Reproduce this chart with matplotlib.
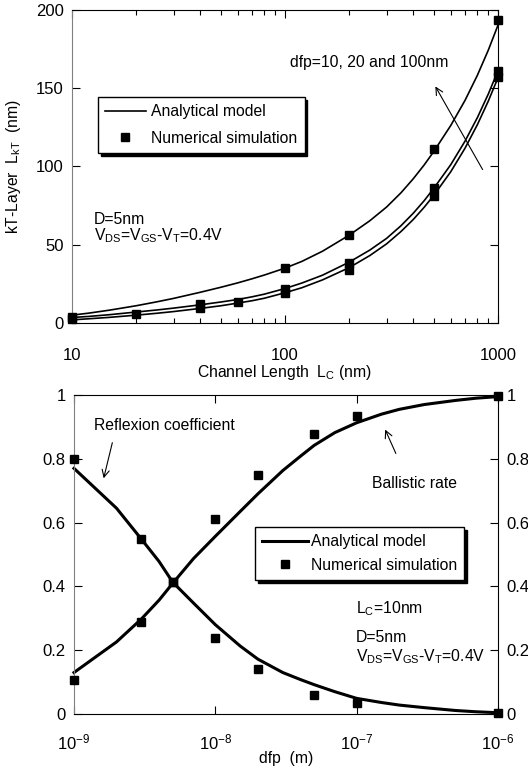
import matplotlib
matplotlib.use('Agg')
import matplotlib.pyplot as plt
from matplotlib.ticker import FixedLocator, NullLocator, FuncFormatter, LogLocator, LogFormatterSciNotation

plt.rcParams['font.family'] = ['Liberation Sans', 'DejaVu Sans']
plt.rcParams['mathtext.fontset'] = 'custom'
plt.rcParams['mathtext.rm'] = 'Liberation Sans'
plt.rcParams['mathtext.it'] = 'Liberation Sans:italic'
plt.rcParams['mathtext.bf'] = 'Liberation Sans:bold'

# ---------------- top panel data: kT-layer vs channel length ----------------
lc_model = [10, 12, 15, 20, 25, 30, 40, 50, 60, 70, 80, 100, 120, 150, 200, 250, 300,
            350, 400, 450, 500, 600, 700, 800, 900, 1000]
lkt_model_dfp10 = [2.0, 2.7, 3.6, 5.0, 6.2, 7.3, 9.3, 11.0, 12.7, 14.2, 15.8, 19.3, 22.5,
                   27.5, 35.3, 43.0, 50.5, 58.3, 66.0, 73.8, 81.5, 96.5, 111.5, 126.5,
                   141.5, 156.5]
lkt_model_dfp20 = [3.5, 4.2, 5.3, 7.0, 8.3, 9.5, 11.6, 13.4, 15.0, 16.7, 18.4, 22.0, 25.5,
                   30.5, 38.8, 46.5, 54.0, 62.0, 70.0, 78.0, 86.0, 101.0, 116.0, 131.0,
                   146.0, 161.0]
lkt_model_dfp100 = [5.0, 6.3, 8.2, 11.0, 13.5, 15.7, 19.6, 22.8, 25.6, 28.2, 30.6, 35.0,
                    39.3, 45.8, 56.0, 65.2, 74.0, 83.0, 92.0, 100.8, 109.5, 126.0, 142.0,
                    158.0, 174.0, 190.0]

lc_sim_dfp10 = [10, 20, 40, 60, 100, 200, 500, 1000]
lkt_sim_dfp10 = [2.8, 6.0, 9.5, 13.4, 19.0, 34.0, 81.0, 157.0]
lc_sim_dfp20 = [40, 100, 200, 500, 1000]
lkt_sim_dfp20 = [12.0, 22.0, 38.0, 86.0, 161.0]
lc_sim_dfp100 = [10, 100, 200, 500, 1000]
lkt_sim_dfp100 = [4.0, 35.0, 56.0, 111.0, 193.0]

top_xticks = [10, 100, 1000]
top_yticks = [0, 50, 100, 150, 200]

# ---------------- bottom panel data: ballistic rate / reflexion ----------------
dfp_model = [1e-9, 2e-9, 3e-9, 4e-9, 5e-9, 7e-9, 1e-8, 1.5e-8, 2e-8, 3e-8, 4e-8, 5e-8,
             7e-8, 1e-7, 1.5e-7, 2e-7, 3e-7, 5e-7, 7e-7, 1e-6]
ballistic_model = [0.13, 0.226, 0.298, 0.357, 0.41, 0.487, 0.557, 0.635, 0.69, 0.763,
                   0.808, 0.842, 0.882, 0.913, 0.94, 0.955, 0.97, 0.983, 0.99, 0.995]
reflexion_model = [0.77, 0.645, 0.548, 0.478, 0.413, 0.348, 0.28, 0.213, 0.172, 0.13,
                   0.108, 0.092, 0.07, 0.049, 0.036, 0.028, 0.02, 0.011, 0.007, 0.004]

dfp_sim = [1e-9, 3e-9, 5e-9, 1e-8, 2e-8, 5e-8, 1e-7, 1e-6]
ballistic_sim = [0.108, 0.288, 0.414, 0.612, 0.748, 0.878, 0.934, 0.997]
reflexion_sim = [0.799, 0.549, 0.414, 0.238, 0.14, 0.061, 0.034, 0.003]

bot_xticks = [1e-9, 1e-8, 1e-7, 1e-6]
bot_yticks = [0, 0.2, 0.4, 0.6, 0.8, 1.0]

W, H = 528, 769
fig = plt.figure(figsize=(W / 100, H / 100), dpi=100)


def fp(x, y):
    return (x / W, 1 - y / H)


FS = 11.3
TFS = 12
GREY = '#808080'

# ---------------- top panel ----------------
ax1 = fig.add_axes([72 / W, 1 - 323 / H, (498 - 72) / W, (323 - 9.5) / H])
ax1.set_xscale('log')
ax1.set_xlim(10, 1000)
ax1.set_ylim(0, 200)
for yv in (lkt_model_dfp10, lkt_model_dfp20, lkt_model_dfp100):
    ax1.plot(lc_model, yv, color='black', lw=1.2, clip_on=False)
sim_kw = dict(ls='none', marker='s', ms=6, color='black', clip_on=False, zorder=5)
ax1.plot(lc_sim_dfp10, lkt_sim_dfp10, **sim_kw)
ax1.plot(lc_sim_dfp20, lkt_sim_dfp20, **sim_kw)
ax1.plot(lc_sim_dfp100, lkt_sim_dfp100, **sim_kw)

ax1.xaxis.set_major_locator(FixedLocator(top_xticks))
ax1.xaxis.set_major_formatter(FuncFormatter(lambda v, p: f'{v:g}'))
ax1.xaxis.set_minor_locator(LogLocator(base=10, subs=range(2, 10), numticks=20))
ax1.yaxis.set_major_locator(FixedLocator(top_yticks))
ax1.tick_params(which='both', direction='in', top=True, right=True, labelsize=TFS)
ax1.tick_params(which='major', length=6, width=0.8)
ax1.tick_params(which='minor', length=3.5, width=0.8)
ax1.tick_params(axis='x', which='major', pad=18)
ax1.tick_params(axis='y', which='major', pad=6)
ax1.spines['left'].set_color(GREY)
ax1.set_xlabel(r'Channel Length  L$_{\rm C}$ (nm)', fontsize=FS, labelpad=0)
ax1.set_ylabel(r'kT-Layer  L$_{\rm kT}$  (nm)', fontsize=FS, labelpad=9)

l1, = ax1.plot([], [], color='black', lw=1.2, label='Analytical model')
m1, = ax1.plot([], [], ls='none', marker='s', ms=6, color='black', label='Numerical simulation')
leg1 = ax1.legend(handles=[l1, m1], loc='upper left',
                  bbox_to_anchor=((98 - 72) / 426, (323 - 97) / 313.5),
                  borderaxespad=0, fontsize=FS, fancybox=False, framealpha=1,
                  edgecolor='black', handlelength=2.6, handletextpad=0.35,
                  labelspacing=0.75, borderpad=0.45,
                  shadow={'facecolor': 'black', 'edgecolor': 'black', 'alpha': 1})
leg1.get_frame().set_linewidth(1.0)

fig.text(*fp(290, 62), 'dfp=10, 20 and 100nm', fontsize=FS, va='center', ha='left')
fig.add_artist(matplotlib.patches.FancyArrowPatch(
    fp(484, 172), fp(434, 84), transform=fig.transFigure,
    arrowstyle='->', mutation_scale=13, lw=0.8, color='black'))
fig.text(*fp(94, 219), 'D=5nm', fontsize=FS, va='center', ha='left')
fig.text(*fp(94, 236), r'V$_{\rm DS}$=V$_{\rm GS}$-V$_{\rm T}$=0.4V', fontsize=FS,
         va='center', ha='left')

# ---------------- bottom panel ----------------
ax2 = fig.add_axes([74 / W, 1 - 714 / H, (498 - 74) / W, (714 - 395) / H])
ax2.set_xscale('log')
ax2.set_xlim(1e-9, 1e-6)
ax2.set_ylim(0, 1)
ax2.plot(dfp_model, ballistic_model, color='black', lw=2.2, clip_on=False)
ax2.plot(dfp_model, reflexion_model, color='black', lw=2.2, clip_on=False)
ax2.plot(dfp_sim, ballistic_sim, **sim_kw)
ax2.plot(dfp_sim, reflexion_sim, **sim_kw)

ax2.xaxis.set_major_locator(FixedLocator(bot_xticks))
ax2.xaxis.set_major_formatter(LogFormatterSciNotation())
ax2.xaxis.set_minor_locator(NullLocator())
ax2.yaxis.set_major_locator(FixedLocator(bot_yticks))
ax2.yaxis.set_major_formatter(FuncFormatter(lambda v, p: f'{v:g}'))
ax2.tick_params(which='both', direction='in', top=True, right=True,
                labelright=True, labelsize=TFS, length=6, width=0.8)
ax2.tick_params(axis='x', pad=13)
ax2.tick_params(axis='y', pad=6)
ax2.spines['left'].set_color(GREY)
ax2.set_xlabel('dfp  (m)', fontsize=FS, labelpad=-1)

l2, = ax2.plot([], [], color='black', lw=2.2, label='Analytical model')
m2, = ax2.plot([], [], ls='none', marker='s', ms=6, color='black', label='Numerical simulation')
leg2 = ax2.legend(handles=[l2, m2], loc='upper left',
                  bbox_to_anchor=((255 - 74) / 424, (714 - 527) / 319),
                  borderaxespad=0, fontsize=FS, fancybox=False, framealpha=1,
                  edgecolor='black', handlelength=2.9, handletextpad=0.2,
                  labelspacing=0.55, borderpad=0.45,
                  shadow={'facecolor': 'black', 'edgecolor': 'black', 'alpha': 1})
leg2.get_frame().set_linewidth(1.0)

fig.text(*fp(94, 425), 'Reflexion coefficient', fontsize=FS, va='center', ha='left')
fig.add_artist(matplotlib.patches.FancyArrowPatch(
    fp(113, 440), fp(103, 481), transform=fig.transFigure,
    arrowstyle='->', mutation_scale=13, lw=0.8, color='black'))
fig.text(*fp(372, 484), 'Ballistic rate', fontsize=FS, va='center', ha='left')
fig.add_artist(matplotlib.patches.FancyArrowPatch(
    fp(397, 456), fp(384, 427), transform=fig.transFigure,
    arrowstyle='->', mutation_scale=13, lw=0.8, color='black'))
fig.text(*fp(356, 609), r'L$_{\rm C}$=10nm', fontsize=FS, va='center', ha='left')
fig.text(*fp(356, 637), 'D=5nm', fontsize=FS, va='center', ha='left')
fig.text(*fp(356, 657), r'V$_{\rm DS}$=V$_{\rm GS}$-V$_{\rm T}$=0.4V', fontsize=FS,
         va='center', ha='left')

fig.savefig('out.png', dpi=100)
